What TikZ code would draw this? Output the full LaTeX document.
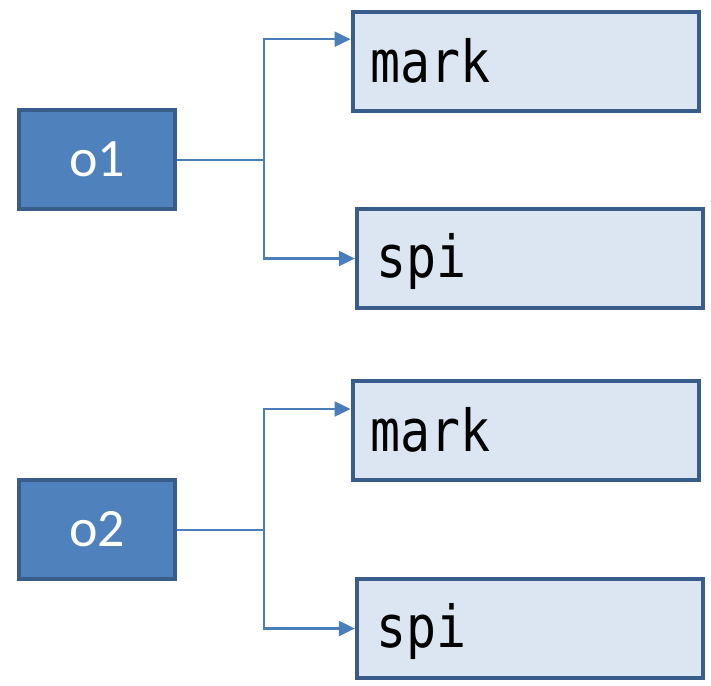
\documentclass[tikz,border=0pt]{standalone}
\usepackage{fontspec}
\usetikzlibrary{arrows.meta}
\newfontfamily\boxsans{Carlito}
\newfontfamily\boxmono[FakeStretch=0.86]{DejaVu Sans Mono}
\definecolor{objfill}{HTML}{4F81BD}
\definecolor{objedge}{HTML}{385D8A}
\definecolor{fieldfill}{HTML}{DCE6F2}
\definecolor{linkcol}{HTML}{4A7EBB}
\tikzset{
  objbox/.style={draw=objedge, fill=objfill, line width=4.3pt, rectangle,
    minimum width=156pt, minimum height=99pt, inner sep=0pt,
    text=white, font=\boxsans\fontsize{54}{60}\selectfont},
  fieldbox/.style={draw=objedge, fill=fieldfill, line width=4.3pt, rectangle,
    minimum width=346pt, minimum height=99pt, inner sep=0pt},
  fieldtext/.style={anchor=base west, inner sep=0pt, text=black,
    font=\boxmono\fontsize{58}{64}\selectfont},
  link/.style={draw=linkcol, line width=2.2pt,
    -{Triangle[length=16pt,width=15pt]}},
  stem/.style={draw=linkcol, line width=2.2pt}
}
\begin{document}
\begin{tikzpicture}[x=1pt, y=-1pt]
  \useasboundingbox (0,0) rectangle (711,685);

  % first object and its two fields
  \node[objbox] (o1) at (97,159.5) {o1};
  \node[fieldbox] (m1) at (525.7,61.2) {};
  \node[fieldbox] (s1) at (530,258.5) {};
  \node[fieldtext] (m1t) at ([xshift=20pt, yshift=-21pt]m1.west) {mark};
  \node[fieldtext] (s1t) at ([xshift=21pt, yshift=-18.5pt]s1.west) {spi};

  % second object and its two fields
  \node[objbox] (o2) at (97,529.5) {o2};
  \node[fieldbox] (m2) at (525.7,430.5) {};
  \node[fieldbox] (s2) at (530,628.5) {};
  \node[fieldtext] (m2t) at ([xshift=20pt, yshift=-21pt]m2.west) {mark};
  \node[fieldtext] (s2t) at ([xshift=21pt, yshift=-18.5pt]s2.west) {spi};

  % branch points of the connectors
  \coordinate (j1) at (264.3,160);
  \coordinate (j2) at (264.3,530);

  \draw[stem] (o1.east |- j1) -- (j1);
  \draw[link] (j1) |- ([yshift=22pt]m1.west);
  \draw[link] (j1) |- (s1.west);

  \draw[stem] (o2.east |- j2) -- (j2);
  \draw[link] (j2) |- ([yshift=21.5pt]m2.west);
  \draw[link] (j2) |- (s2.west);
\end{tikzpicture}
\end{document}
